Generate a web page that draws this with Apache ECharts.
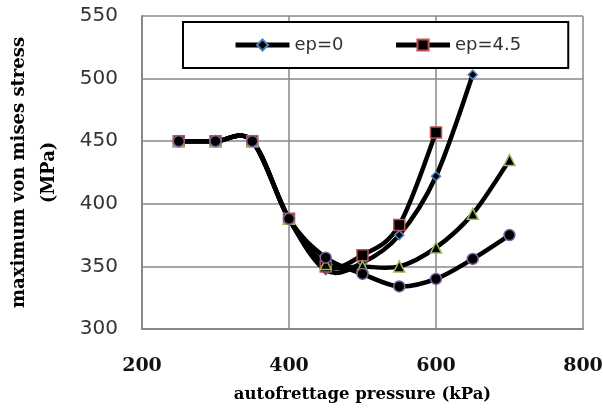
<!DOCTYPE html>
<html><head><meta charset="utf-8">
<script src="https://cdn.jsdelivr.net/npm/echarts@6/dist/echarts.min.js"></script>
<style>html,body{margin:0;padding:0;background:#fff}#c{width:603px;height:412px}</style>
</head><body><div id="c"></div>
<script>
const pressure = [250, 300, 350, 400, 450, 500, 550, 600, 650, 700];
const ep0 = [450, 450, 450, 388, 347, 353, 375, 422, 503];
const ep45 = [450, 450, 450, 388, 350, 359, 383, 457];
const series3 = [450, 450, 450, 388, 352, 350, 350, 365, 392, 435];
const series4 = [450, 450, 450, 388, 357, 344, 334, 340, 356, 375];
const xTicks = [200, 400, 600, 800];
const yTicks = [300, 350, 400, 450, 500, 550];

function pairs(vals) { return vals.map((v, i) => [pressure[i], v]); }

// smoothed connecting curve (Excel-like cardinal spline), drawn through the axes' scales
function curve(vals) {
  const n = vals.length;
  return {
    type: 'custom', data: pairs(vals), z: 1, silent: true,
    renderItem: function (params, api) {
      const i = params.dataIndexInside;
      if (i >= n - 1) return null;
      const pt = k => api.coord([api.value(0, k), api.value(1, k)]);
      const p1 = pt(i), p2 = pt(i + 1);
      const p0 = i > 0 ? pt(i - 1) : p1;
      const p3 = i + 2 < n ? pt(i + 2) : p2;
      return {
        type: 'bezierCurve',
        shape: {
          x1: p1[0], y1: p1[1], x2: p2[0], y2: p2[1],
          cpx1: p1[0] + (p2[0] - p0[0]) / 6, cpy1: p1[1] + (p2[1] - p0[1]) / 6,
          cpx2: p2[0] - (p3[0] - p1[0]) / 6, cpy2: p2[1] - (p3[1] - p1[1]) / 6
        },
        style: { stroke: '#000', lineWidth: 4.5, fill: null, lineCap: 'round' }
      };
    }
  };
}

function mk(name, vals, symbol, size, border) {
  return {
    name: name, type: 'line', data: pairs(vals), z: 3,
    symbol: symbol, symbolSize: size, showAllSymbol: true,
    lineStyle: { color: '#000', width: 4.5, opacity: 0 },
    itemStyle: { color: '#000', borderColor: border, borderWidth: 1.5 },
    emphasis: { disabled: true }
  };
}

const chart = echarts.init(document.getElementById('c'));
chart.setOption({
  animation: false,
  backgroundColor: '#fff',
  grid: { left: 142, top: 16, width: 441, height: 313, containLabel: false, outerBoundsMode: 'none' },
  legend: {
    data: ['ep=0', 'ep=4.5'],
    left: 183, top: 22,
    padding: [14, 47, 14, 50],
    itemWidth: 54, itemHeight: 14, itemGap: 50,
    backgroundColor: '#fff', borderColor: '#000', borderWidth: 2,
    lineStyle: { color: '#000', width: 5, opacity: 1 },
    textStyle: { fontFamily: 'DejaVu Sans', fontSize: 18, color: '#333' },
    z: 10
  },
  xAxis: {
    type: 'value', min: 200, max: 800, interval: 200,
    name: 'autofrettage pressure (kPa)', nameLocation: 'middle', nameGap: 57,
    nameTextStyle: { fontFamily: 'DejaVu Serif', fontWeight: 'bold', fontSize: 16.5, color: '#000' },
    axisLine: { show: true, lineStyle: { color: '#888', width: 2 } },
    axisTick: { show: false },
    axisLabel: { fontFamily: 'DejaVu Serif', fontWeight: 'bold', fontSize: 19, color: '#111', margin: 28,
      formatter: v => xTicks.includes(v) ? String(v) : '' },
    splitLine: { show: true, lineStyle: { color: '#888', width: 1.5 } }
  },
  yAxis: {
    type: 'value', min: 300, max: 550, interval: 50,
    name: 'maximum von mises stress\n(MPa)', nameLocation: 'middle', nameGap: 78, nameRotate: 90,
    nameTextStyle: { fontFamily: 'DejaVu Serif', fontWeight: 'bold', fontSize: 18, color: '#000', lineHeight: 30 },
    axisLine: { show: true, lineStyle: { color: '#888', width: 2 } },
    axisTick: { show: false },
    axisLabel: { fontFamily: 'DejaVu Sans', fontSize: 20, color: '#333', margin: 24,
      formatter: v => yTicks.includes(v) ? String(v) : '' },
    splitLine: { show: true, lineStyle: { color: '#888', width: 1.5 } }
  },
  series: [
    curve(ep0), curve(ep45), curve(series3), curve(series4),
    mk('ep=0', ep0, 'diamond', 9, '#4F81BD'),
    mk('ep=4.5', ep45, 'rect', 11, '#C0504D'),
    mk('series 3', series3, 'triangle', 11, '#9BBB59'),
    mk('series 4', series4, 'circle', 11, '#8064A2')
  ]
});
</script></body></html>
